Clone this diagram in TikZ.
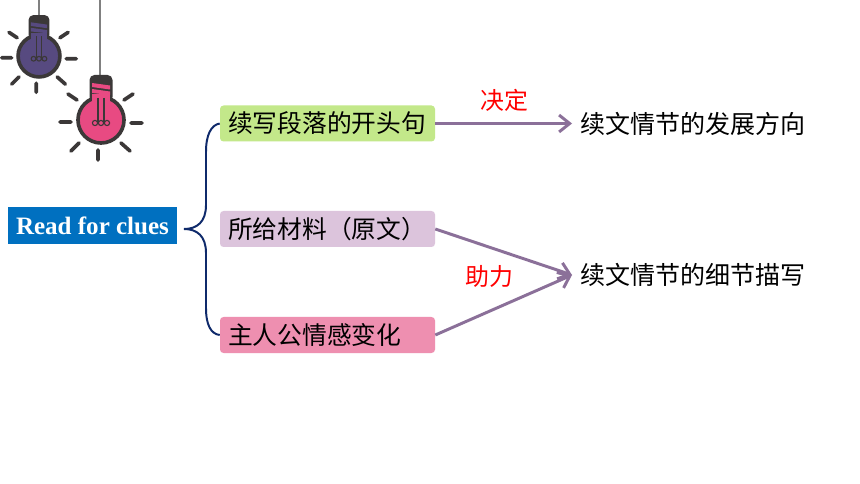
\documentclass[tikz,border=0pt]{standalone}
\usepackage{fontspec}
\setmainfont{Liberation Serif}
\newfontfamily\cjk{Noto Sans CJK SC}
\usetikzlibrary{arrows.meta}
\definecolor{rootblue}{HTML}{0070C0}
\definecolor{leafgreen}{HTML}{C3E88A}
\definecolor{leaflilac}{HTML}{DCC4DC}
\definecolor{leafpink}{HTML}{EE8FB0}
\definecolor{linkpurple}{HTML}{8B7099}
\definecolor{bracenavy}{HTML}{0F2A6B}
\definecolor{bulbdark}{HTML}{3B3838}
\definecolor{bulbpurple}{HTML}{574A80}
\definecolor{bulbpink}{HTML}{E84A82}
\tikzset{
	bulb/.pic={
		\draw[bulbdark,line width=2.6pt,fill=#1] (0,0) circle (23);
		\fill[bulbdark,rounded corners=3.5] (-11.5,-45) rectangle (11.5,-18);
		\fill[#1] (-9,-25.5) rectangle (9,-15);
		\fill[#1] (-9,-37) -- (9,-34.5) -- (9,-30.5) -- (-9,-33) -- cycle;
		\fill[#1] (-9,-31) -- (9,-28.5) -- (9,-25) -- (-9,-27) -- cycle;
		\draw[bulbdark,line width=1pt] (-3,-22) -- (-3,2) (3,-22) -- (3,2);
		\draw[bulbdark,line width=0.8pt] (-6,3) circle (2.6) (0,3) circle (2.6) (6,3) circle (2.6);
		\draw[bulbdark,line width=2.6pt,line cap=round] (-41,2) -- (-30,2) (30,3) -- (41,3)
			(-30,31) -- (-22,23) (20,23) -- (29,31) (-3,30) -- (-3,40)
			(-33,-26) -- (-24,-20) (23,-20) -- (32,-26);
	}
}
\begin{document}
\begin{tikzpicture}[x=0.025cm,y=-0.025cm,
	root_node/.style={fill=rootblue,text=white,minimum width=169*0.025cm,minimum height=37*0.025cm,inner sep=0pt,font=\fontsize{17.8}{20}\selectfont\bfseries},
	leaf_node/.style={rounded corners=2.5pt,minimum width=215*0.025cm,minimum height=36*0.025cm,inner sep=0pt,text width=199*0.025cm,font=\fontsize{17.6}{22}\cjk},
	goal_node/.style={inner xsep=0.2cm,inner ysep=0pt,anchor=west,font=\fontsize{17.8}{22}\cjk},
	link_label/.style={text=red,inner sep=0pt,font=\fontsize{17}{20}\cjk},
	link_line/.style={draw=linkpurple,line width=2.1pt,-{Straight Barb[length=7.5pt,width=12pt,line width=2.1pt]}},
	brace_line/.style={draw=bracenavy,line width=1.4pt}]

	\path[use as bounding box,fill=white] (0,0) rectangle (860,484);

	\draw[gray,line width=1.1pt] (39,0) -- (39,16);
	\draw[gray,line width=1.1pt] (100,0) -- (100,76);
	\pic[scale=0.91] at (39,56) {bulb=bulbpurple};
	\pic at (101,120) {bulb=bulbpink};

	\node[root_node] (clues) at (92.5,225.5) {Read for clues};
	\node[leaf_node,fill=leafgreen] (opening) at (327.5,123.5) {续写段落的开头句};
	\node[leaf_node,fill=leaflilac] (source) at (327.5,229) {所给材料（原文）};
	\node[leaf_node,fill=leafpink] (feeling) at (327.5,335) {主人公情感变化};

	\node[goal_node] (direction) at (572,123.5) {续文情节的发展方向};
	\node[goal_node] (detail) at (572,275) {续文情节的细节描写};

	\node[link_label] (decide) at (504,100) {决定};
	\node[link_label] (help) at (489,276) {助力};

	\coordinate (brace_tip) at (184,229);

	\draw[brace_line] (brace_tip) .. controls (197,229) and (206,222) .. (206,205)
		-- (206,152) .. controls (206,135) and (211,125) .. (opening.west);
	\draw[brace_line] (brace_tip) .. controls (197,229) and (206,236) .. (206,253)
		-- (206,308) .. controls (206,325) and (211,334) .. (feeling.west);

	\draw[link_line] (opening.east) -- (direction.west);
	\draw[link_line] (source.east) -- (detail.west);
	\draw[link_line] (feeling.east) -- (detail.west);
\end{tikzpicture}
\end{document}
